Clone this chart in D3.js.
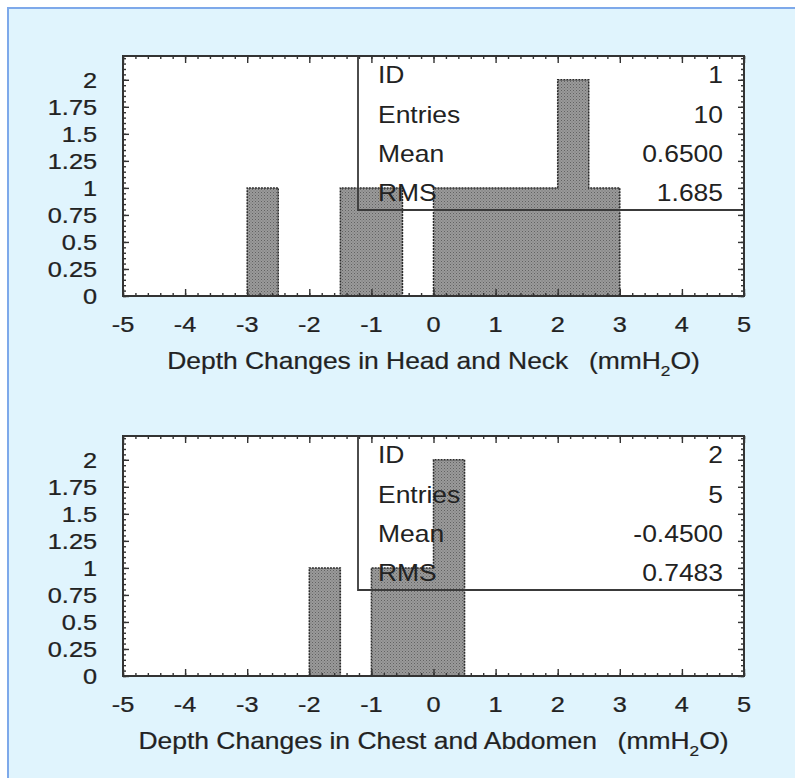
<!DOCTYPE html>
<html>
<head>
<meta charset="utf-8">
<script src="https://cdn.jsdelivr.net/npm/d3@7"></script>
<style>
  html, body { margin: 0; padding: 0; background: #ffffff; }
  svg { display: block; }
  text { font-family: "Liberation Sans", Arial, Helvetica, sans-serif; fill: #222222; }
</style>
</head>
<body>
<script>
// Histogram bin edges (width 0.5) shared by both panels
const binEdges = [-5, -4.5, -4, -3.5, -3, -2.5, -2, -1.5, -1, -0.5, 0,
                  0.5, 1, 1.5, 2, 2.5, 3, 3.5, 4, 4.5, 5];
// Entries per bin
const headCounts  = [0, 0, 0, 0, 1, 0, 0, 1, 1, 0, 1, 1, 1, 1, 2, 1, 0, 0, 0, 0];
const chestCounts = [0, 0, 0, 0, 0, 0, 1, 0, 1, 1, 2, 0, 0, 0, 0, 0, 0, 0, 0, 0];

const xTickValues = [-5, -4, -3, -2, -1, 0, 1, 2, 3, 4, 5];
const yTickValues = [0, 0.25, 0.5, 0.75, 1, 1.25, 1.5, 1.75, 2];
const yTickLabels = ["0", "0.25", "0.5", "0.75", "1", "1.25", "1.5", "1.75", "2"];

const statNames  = ["ID", "Entries", "Mean", "RMS"];
const headStats  = ["1", "10", "0.6500", "1.685"];
const chestStats = ["2", "5", "-0.4500", "0.7483"];

const axisTitles = ["Depth Changes in Head and Neck", "Depth Changes in Chest and Abdomen"];

const W = 795, H = 778;
const SX = 1.15; // horizontal stretch applied to all lettering

const svg = d3.select("body").append("svg")
  .attr("width", W).attr("height", H);

// Stipple fill for the histogram bodies
const defs = svg.append("defs");
const pat = defs.append("pattern")
  .attr("id", "stipple").attr("patternUnits", "userSpaceOnUse")
  .attr("width", 3).attr("height", 3);
pat.append("rect").attr("width", 3).attr("height", 3).attr("fill", "#9a9a9a");
pat.append("rect").attr("x", 0).attr("y", 0).attr("width", 1).attr("height", 1).attr("fill", "#626262");
pat.append("rect").attr("x", 1.5).attr("y", 1.5).attr("width", 1).attr("height", 1).attr("fill", "#747474");

// Light blue backdrop with its blue edge
svg.append("rect").attr("x", 8).attr("y", 8).attr("width", W - 8).attr("height", H - 8)
  .attr("fill", "#e0f4fd");
svg.append("path").attr("d", `M8,${H} V8 H${W}`)
  .attr("fill", "none").attr("stroke", "#7ea9ea").attr("stroke-width", 2);

function label(g, x, y, txt, size, anchor) {
  return g.append("text")
    .attr("transform", `translate(${x},${y}) scale(${SX},1)`)
    .attr("text-anchor", anchor || "start")
    .attr("font-size", size)
    .attr("stroke", "#222").attr("stroke-width", 0.25)
    .text(txt);
}

const frame = { left: 123, right: 744, height: 240 };
const tops = [56, 436];

const x = d3.scaleLinear().domain([-5, 5]).range([frame.left, frame.right]);

function drawPanel(top, counts, stats, title) {
  const bottom = top + frame.height;
  const y = d3.scaleLinear().domain([0, 2.22]).range([bottom, top]);
  const g = svg.append("g");

  // plot area
  g.append("rect")
    .attr("x", frame.left).attr("y", top)
    .attr("width", frame.right - frame.left).attr("height", frame.height)
    .attr("fill", "#ffffff");

  // histogram outline as a step path
  let d = `M${x(binEdges[0])},${y(0)}`;
  counts.forEach((c, i) => {
    d += ` L${x(binEdges[i])},${y(c)} L${x(binEdges[i + 1])},${y(c)}`;
  });
  d += ` L${x(binEdges[binEdges.length - 1])},${y(0)} Z`;
  g.append("path").attr("d", d)
    .attr("fill", "url(#stipple)")
    .attr("stroke", "#2a2a2a").attr("stroke-width", 1.5)
    .attr("stroke-dasharray", "2,1");

  // tick marks on all four sides, pointing inward
  const tickStyle = sel => {
    sel.select(".domain").remove();
    sel.selectAll("line").attr("stroke", "#333").attr("stroke-width", 1.4);
    sel.selectAll("text").remove();
  };
  const xMinor = d3.range(-5, 5.001, 0.2);
  const yMinor = d3.range(0, 2.2001, 0.05);
  g.append("g").attr("transform", `translate(0,${bottom})`)
    .call(d3.axisBottom(x).tickValues(xMinor).tickSize(-3)).call(tickStyle);
  g.append("g").attr("transform", `translate(0,${bottom})`)
    .call(d3.axisBottom(x).tickValues(xTickValues).tickSize(-7)).call(tickStyle);
  g.append("g").attr("transform", `translate(0,${top})`)
    .call(d3.axisTop(x).tickValues(xMinor).tickSize(-3)).call(tickStyle);
  g.append("g").attr("transform", `translate(0,${top})`)
    .call(d3.axisTop(x).tickValues(xTickValues).tickSize(-7)).call(tickStyle);
  g.append("g").attr("transform", `translate(${frame.left},0)`)
    .call(d3.axisLeft(y).tickValues(yMinor).tickSize(-3)).call(tickStyle);
  g.append("g").attr("transform", `translate(${frame.left},0)`)
    .call(d3.axisLeft(y).tickValues(yTickValues).tickSize(-6)).call(tickStyle);
  g.append("g").attr("transform", `translate(${frame.right},0)`)
    .call(d3.axisRight(y).tickValues(yMinor).tickSize(-3)).call(tickStyle);
  g.append("g").attr("transform", `translate(${frame.right},0)`)
    .call(d3.axisRight(y).tickValues(yTickValues).tickSize(-6)).call(tickStyle);

  // frame
  g.append("rect")
    .attr("x", frame.left).attr("y", top)
    .attr("width", frame.right - frame.left).attr("height", frame.height)
    .attr("fill", "none").attr("stroke", "#333").attr("stroke-width", 2);

  // statistics box
  const boxX = 358, boxY = top + 154;
  g.append("path").attr("d", `M${boxX},${top} V${boxY} H${frame.right}`)
    .attr("fill", "none").attr("stroke", "#3a3a3a").attr("stroke-width", 1.8);
  const rowY = [27, 67, 106, 145];
  statNames.forEach((n, i) => {
    label(g, 378, top + rowY[i], n, 23, "start").attr("stroke-width", 0);
    label(g, 723, top + rowY[i], stats[i], 23, "end").attr("stroke-width", 0);
  });

  // tick labels
  yTickValues.forEach((v, i) => {
    label(g, 97, y(v) + 8, yTickLabels[i], 22, "end");
  });
  xTickValues.forEach(v => {
    label(g, x(v), bottom + 36, String(v), 22, "middle");
  });

  // axis title with unit
  const t = g.append("text")
    .attr("transform", `translate(${(frame.left + frame.right) / 2},${bottom + 73}) scale(${SX},1)`)
    .attr("text-anchor", "middle")
    .attr("font-size", 23)
    .attr("stroke", "#222").attr("stroke-width", 0.2);
  t.append("tspan").text(title);
  t.append("tspan").attr("dx", 18).text("(mmH");
  t.append("tspan").attr("font-size", 15).attr("dy", 7).text("2");
  t.append("tspan").attr("dy", -7).text("O)");
}

drawPanel(tops[0], headCounts, headStats, axisTitles[0]);
drawPanel(tops[1], chestCounts, chestStats, axisTitles[1]);
</script>
</body>
</html>
